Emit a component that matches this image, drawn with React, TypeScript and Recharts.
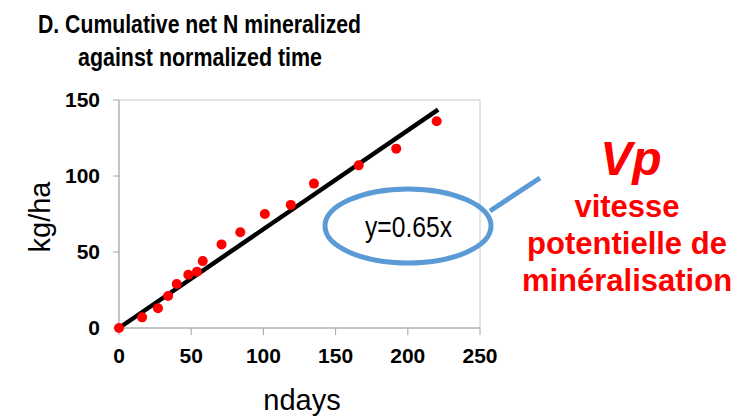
import { ScatterChart, Scatter, XAxis, YAxis, ReferenceLine, ReferenceArea } from "recharts";

// cumulative net N mineralized vs normalized time
const ndays = [0, 16, 27, 34, 40, 48, 54, 58, 71, 84, 101, 119, 135, 166, 192, 220];
const kgha = [0, 7, 13, 21, 29, 35, 37, 44, 55, 63, 75, 81, 95, 107, 118, 136];

const xTicks = [0, 50, 100, 150, 200, 250];
const yTicks = [0, 50, 100, 150];

const slope = 0.65;
const fitEnd = 221;

const titleLines = ["D. Cumulative net N mineralized", "against normalized time"];
const noteLines = ["vitesse", "potentielle de", "minéralisation"];

const points = ndays.map((x, i) => ({ x, y: kgha[i] }));

const axisGray = "#a6a6a6";
const tickStyle = { fill: "#000", fontSize: 21, fontWeight: 700, fontFamily: "Liberation Sans, Arial, sans-serif" };

const Dot = (props: any) => <circle cx={props.cx} cy={props.cy} r={5} fill="#ff0000" />;

export default function App() {
  return (
    <div style={{ position: "relative", width: 744, height: 416, background: "#fff" }}>
      <style>{`body{margin:0}`}</style>
      <ScatterChart width={744} height={416} margin={{ top: 100, right: 264, bottom: 0, left: 0 }}>
        <ReferenceArea x1={0} x2={250} y1={0} y2={150} fill="none" stroke="#c8c8c8" strokeWidth={1} />
        <XAxis
          type="number"
          dataKey="x"
          domain={[0, 250]}
          ticks={xTicks}
          height={88}
          stroke={axisGray}
          tickSize={7}
          tickMargin={13}
          tick={tickStyle}
        />
        <YAxis
          type="number"
          dataKey="y"
          domain={[0, 150]}
          ticks={yTicks}
          width={119}
          stroke={axisGray}
          tickSize={6}
          tickMargin={13}
          tick={tickStyle}
        />
        <Scatter data={points} shape={Dot} isAnimationActive={false} />
        <ReferenceLine
          segment={[{ x: 0, y: 0 }, { x: fitEnd, y: slope * fitEnd }]}
          stroke="#000"
          strokeWidth={4.5}
        />
      </ScatterChart>
      <svg
        width={744}
        height={416}
        style={{ position: "absolute", left: 0, top: 0, pointerEvents: "none" }}
        fontFamily="Liberation Sans, Arial, sans-serif"
      >
        <text x={38} y={33} fontSize={26} fontWeight={700} textLength={323} lengthAdjust="spacingAndGlyphs">
          {titleLines[0]}
        </text>
        <text x={78} y={66} fontSize={26} fontWeight={700} textLength={244} lengthAdjust="spacingAndGlyphs">
          {titleLines[1]}
        </text>
        <text x={302} y={410} fontSize={29} textAnchor="middle">ndays</text>
        <text x={50} y={217} fontSize={29} textAnchor="middle" transform="rotate(-90 50 217)">kg/ha</text>

        <ellipse cx={408} cy={226} rx={83} ry={37} fill="none" stroke="#5b9bd5" strokeWidth={5} />
        <line x1={490} y1={211} x2={540} y2={178} stroke="#5b9bd5" strokeWidth={5} />
        <text x={365} y={237} fontSize={29} textLength={87} lengthAdjust="spacingAndGlyphs">y=0.65x</text>

        <text x={631} y={175} fontSize={48} fontWeight={700} fontStyle="italic" fill="#ff0000" textAnchor="middle">Vp</text>
        {noteLines.map((t, i) => (
          <text key={t} x={627} y={217 + i * 37} fontSize={31} fontWeight={700} fill="#ff0000" textAnchor="middle">
            {t}
          </text>
        ))}
      </svg>
    </div>
  );
}
